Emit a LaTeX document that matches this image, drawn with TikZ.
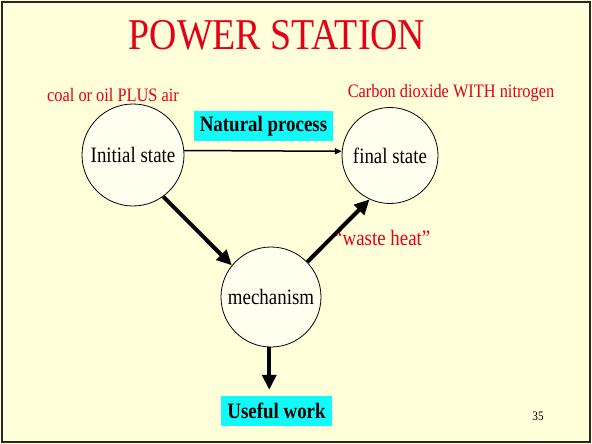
\documentclass[tikz,border=0pt]{standalone}
\usepackage{fontspec}
\setmainfont{Liberation Serif}[FakeStretch=0.86]
\usetikzlibrary{arrows.meta}
\definecolor{slidebg}{RGB}{255,255,217}
\definecolor{titlered}{RGB}{228,0,24}
\definecolor{boxcyan}{RGB}{16,250,250}
\tikzset{
  state/.style={circle,draw,line width=0.8pt,fill=white!60!slidebg,inner sep=0pt,font=\fontsize{22}{26}\selectfont},
  tag/.style={fill=boxcyan,inner xsep=6pt,minimum height=30pt,font=\fontsize{22}{26}\selectfont\bfseries},
  note/.style={text=titlered,inner sep=0pt,font=\fontsize{19}{22}\selectfont},
  thick arrow/.style={line width=4pt,-{Triangle[length=15pt,width=14pt]}},
}

\begin{document}
\begin{tikzpicture}[x=1pt,y=-1pt]
  \useasboundingbox(0,0)rectangle(592,444);
  \fill[slidebg](0,0)rectangle(592,444);
  \draw[line width=2pt,black!85](2,2)rectangle(590,442);
  \node[anchor=base,inner sep=0pt,text=titlered,font=\fontsize{44}{50}\selectfont](title)at(277,50){POWER STATION};
  \node[note,anchor=base](fuel)at(113,101){coal or oil PLUS air};
  \node[note,anchor=base](exhaust)at(451,98){Carbon dioxide WITH nitrogen};
  \node[state,minimum size=102pt](init)at(133,155){Initial state};
  \node[state,minimum size=96pt](final)at(390,155.5){final state};
  \node[state,minimum size=100pt](mech)at(271,297){mechanism};
  \node[tag](natural)at(263.5,126){Natural process};
  \node[tag](work)at(276.5,411){Useful work};
  \node[note,anchor=base west,font=\fontsize{22}{26}\selectfont](heat)at(334,245){``waste heat''};
  \node[anchor=base,inner sep=0pt,font=\fontsize{13}{15}\selectfont](page)at(538,420){35};
  \draw[line width=1.5pt,-{Triangle[length=7pt,width=6pt]}](init.5)--(final.175);
  \draw[thick arrow](init.-54)--(mech.141);
  \draw[thick arrow](mech.44)--(final.-115);
  \draw[thick arrow,shorten >=6pt](mech.-92)--(mech.-92 |- work.north);
\end{tikzpicture}
\end{document}
